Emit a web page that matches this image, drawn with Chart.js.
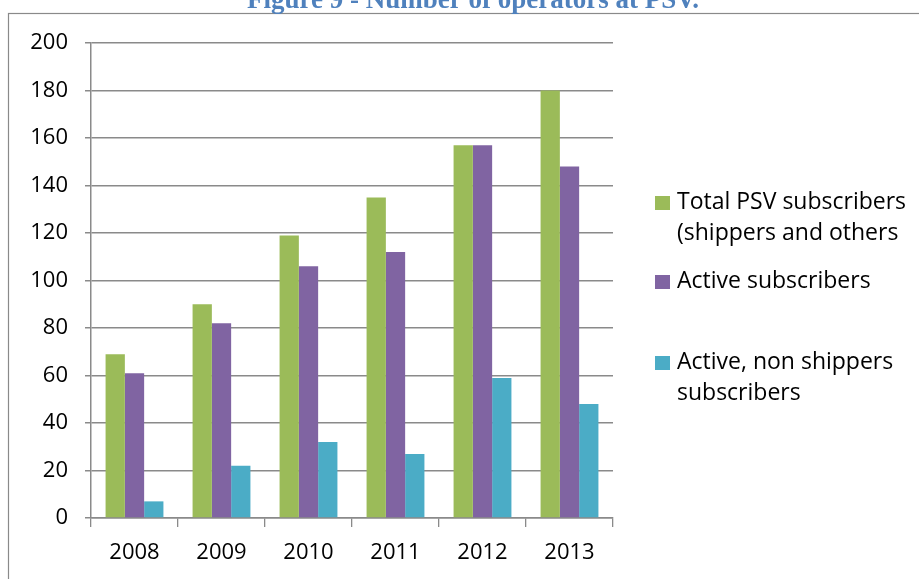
<!DOCTYPE html>
<html>
<head>
<meta charset="utf-8">
<script src="https://cdn.jsdelivr.net/npm/chart.js@4"></script>
<style>
  html, body { margin: 0; padding: 0; background: #fff; }
  #wrap { width: 919px; height: 579px; position: relative; }
</style>
</head>
<body>
<div id="wrap"><canvas id="psv-chart" width="919" height="579"></canvas></div>
<script>
var years = ['2008', '2009', '2010', '2011', '2012', '2013'];
var totalSubscribers = [69, 90, 119, 135, 157, 180];
var activeSubscribers = [61, 82, 106, 112, 157, 148];
var nonShipperSubscribers = [7, 22, 32, 27, 59, 48];
var seriesNames = [
  ['Total PSV subscribers', '(shippers and others'],
  ['Active subscribers'],
  ['Active, non shippers', 'subscribers']
];
var seriesColors = ['#9BBB59', '#8064A2', '#4BACC6'];
var titleText = 'Figure 9 - Number of operators at PSV.';

var font = '"Open Sans", Lato, sans-serif';

// frame + cut-off title + legend drawn by hand
var decorPlugin = {
  id: 'decor',
  beforeDraw: function (chart) {
    var ctx = chart.ctx;
    ctx.save();
    ctx.strokeStyle = '#8a8a8a';
    ctx.lineWidth = 1.2;
    ctx.strokeRect(8.5, 13.5, 930, 600);
    ctx.fillStyle = '#4F81BD';
    ctx.font = 'bold 27px "Liberation Serif", serif';
    ctx.textAlign = 'center';
    ctx.textBaseline = 'alphabetic';
    ctx.fillText(titleText, 473, 8);
    ctx.restore();
  },
  afterDraw: function (chart) {
    var ctx = chart.ctx;
    var starts = [202, 281, 362];
    ctx.save();
    ctx.font = '23px ' + font;
    ctx.textBaseline = 'middle';
    ctx.textAlign = 'left';
    chart.data.datasets.forEach(function (ds, i) {
      var y = starts[i];
      ctx.fillStyle = ds.backgroundColor;
      ctx.fillRect(655, y - 6, 15, 14);
      ctx.fillStyle = '#000';
      seriesNames[i].forEach(function (line, j) {
        ctx.fillText(line, 677, y + j * 31);
      });
    });
    ctx.restore();
  }
};

var config = {
  type: 'bar',
  data: {
    labels: years,
    datasets: [
      { label: seriesNames[0].join(' '), data: totalSubscribers, backgroundColor: seriesColors[0] },
      { label: seriesNames[1].join(' '), data: activeSubscribers, backgroundColor: seriesColors[1] },
      { label: seriesNames[2].join(' '), data: nonShipperSubscribers, backgroundColor: seriesColors[2] }
    ]
  },
  options: {
    responsive: false,
    animation: false,
    layout: {
      padding: { left: 0, top: 43, right: 306, bottom: 0 }
    },
    datasets: {
      bar: { categoryPercentage: 0.665, barPercentage: 1.0 }
    },
    plugins: {
      legend: { display: false },
      title: { display: false },
      tooltip: { enabled: false }
    },
    scales: {
      x: {
        afterFit: function (scale) { scale.height = 61; },
        grid: {
          offset: true,
          drawOnChartArea: false,
          drawTicks: true,
          tickLength: 9,
          color: '#8a8a8a',
          lineWidth: 1.3
        },
        border: { color: '#8a8a8a', width: 1.5 },
        ticks: {
          color: '#000',
          padding: 13,
          font: { family: font, size: 22 }
        }
      },
      y: {
        min: 0,
        max: 200,
        afterFit: function (scale) { scale.width = 91; },
        grid: {
          color: '#8a8a8a',
          lineWidth: 1.5,
          drawTicks: true,
          tickLength: 6
        },
        border: { color: '#8a8a8a', width: 1.5 },
        ticks: {
          stepSize: 20,
          color: '#000',
          padding: 17,
          font: { family: font, size: 22 }
        }
      }
    }
  },
  plugins: [decorPlugin]
};

window.onload = function () {
  var ctx = document.getElementById('psv-chart').getContext('2d');
  window.psvChart = new Chart(ctx, config);
};
</script>
</body>
</html>
